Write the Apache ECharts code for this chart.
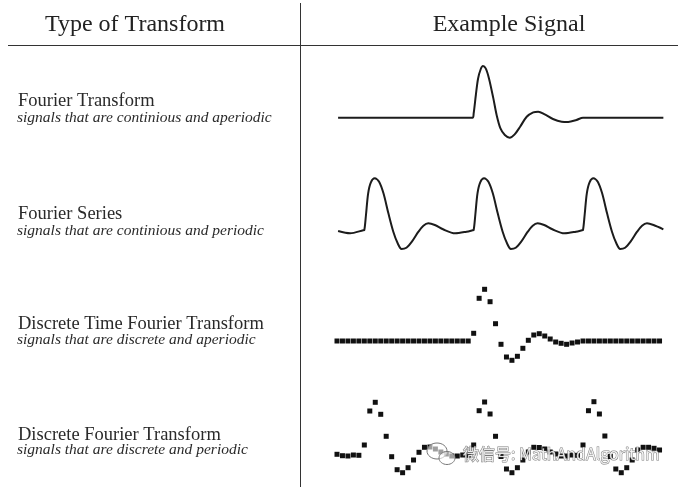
<!DOCTYPE html>
<html>
<head>
<meta charset="utf-8">
<script src="https://cdn.jsdelivr.net/npm/echarts@6/dist/echarts.min.js"></script>
<style>
  html, body { margin: 0; padding: 0; background: #fff; }
  #main { width: 695px; height: 487px; }
</style>
</head>
<body>
<div id="main"></div>
<script>
// column headers and row labels
var headers = ['Type of Transform', 'Example Signal'];
var rowTitles = ['Fourier Transform', 'Fourier Series', 'Discrete Time Fourier Transform', 'Discrete Fourier Transform'];
var rowSubtitles = [
  'signals that are continious and aperiodic',
  'signals that are continious and periodic',
  'signals that are discrete and aperiodic',
  'signals that are discrete and periodic'
];
var watermark = '微信号: MathAndAlgorithm';

// Fourier Transform - continuous, aperiodic (t in sample units, 0..60)
var ftT = [0.2, 24.8, 25.0, 25.4, 25.8, 26.3, 26.7, 27.2, 27.8, 28.6, 29.2, 29.9, 30.7, 31.6, 32.5, 33.5, 34.7, 35.9, 36.8, 38.0, 39.5, 41.1, 42.3, 43.8, 45.0, 59.7];
var ftV = [0, 0, 4.3, 22.7, 39, 48.7, 51.7, 49.3, 39.3, 19.3, 2.7, -10.7, -17.3, -20, -16.7, -9, 1, 5.3, 6, 3.3, -1.3, -4, -4.3, -2.3, 0, 0];

// Fourier Series - continuous, periodic
var fsT = [0.2, 2.4, 4.8, 5.0, 5.3, 5.7, 6.2, 6.9, 7.7, 8.5, 9.4, 10.3, 11.1, 11.8, 12.7, 13.7, 14.9, 15.8, 16.7, 17.9, 19.4, 21.6, 23.7, 24.8,
  25.0, 25.3, 25.7, 26.2, 26.9, 27.7, 28.5, 29.4, 30.3, 31.1, 31.8, 32.7, 33.7, 34.9, 35.8, 36.7, 37.9, 39.4, 41.6, 43.7, 44.8,
  45.0, 45.3, 45.7, 46.2, 46.9, 47.7, 48.5, 49.4, 50.3, 51.1, 51.8, 52.7, 53.7, 54.9, 55.8, 56.7, 57.9, 59.7];
var fsV = [0, -2.3, 0.7, 1, 16, 37.7, 48.7, 52.7, 49.3, 37.7, 17.7, -0.7, -12.3, -18, -16.7, -10.7, -0.7, 5.3, 7.7, 6, 1.7, -2.3, -0.7, 0.7,
  1, 16, 37.7, 48.7, 52.7, 49.3, 37.7, 17.7, -0.7, -12.3, -18, -16.7, -10.7, -0.7, 5.3, 7.7, 6, 1.7, -2.3, -0.7, 0.7,
  1, 16, 37.7, 48.7, 52.7, 49.3, 37.7, 17.7, -0.7, -12.3, -18, -16.7, -10.7, -0.7, 5.3, 7.7, 6, 1.7];

// DTFT - discrete, aperiodic, samples n = 0..59
var dtftV = [0, 0, 0, 0, 0, 0, 0, 0, 0, 0, 0, 0, 0, 0, 0, 0, 0, 0, 0, 0, 0, 0, 0, 0, 0,
  7.7, 42.7, 51.7, 39.3, 17.3, -3.3, -16, -19.3, -15.3, -7.3, 0.7, 6, 7.3, 5, 2, -1, -2.3, -3.3, -2, -1,
  0, 0, 0, 0, 0, 0, 0, 0, 0, 0, 0, 0, 0, 0, 0];

// DFT - discrete, periodic, samples n = 0..59
var dftV = [0.7, -0.7, -1, 0, -0.3, 10, 44, 52.7, 40.7, 18.7, -1.7, -14.7, -17.7, -12.7, -5, 2.7, 7.7, 8, 6, 3,
  1, -1, -1, 0, -0.3, 10, 44.3, 53, 41, 18.7, -1.5, -14, -17.7, -12.7, -5, 3, 7.7, 7.5, 6, 3,
  1, -1, -1, 0, -0.3, 10, 44.3, 53.3, 41, 19, -1.5, -14, -17.7, -12.7, -5, 5, 7.7, 7.7, 6.7, 5];

// layout
var rowTops = [62.7, 176, 286, 400];
var titleY = [101.5, 214, 324, 435];
var subY = [117.5, 231, 340, 450];
var serif = '"Liberation Serif", "Times New Roman", serif';

var chart = echarts.init(document.getElementById('main'));

function pairs(xs, ys) {
  return ys.map(function (v, k) { return [xs[k], v]; });
}
function samples(ys) {
  return ys.map(function (v, k) { return [k, v]; });
}

var grids = [], xAxes = [], yAxes = [];
rowTops.forEach(function (top, i) {
  grids.push({ left: 337, top: top, width: 328, height: 80 });
  xAxes.push({ type: 'value', gridIndex: i, min: 0, max: 60, show: false });
  yAxes.push({ type: 'value', gridIndex: i, min: -25, max: 55, show: false });
});

var lineStyle = { color: '#1c1c1c', width: 2 };
var dotStyle = { color: '#111', opacity: 1 };

var graphics = [
  // table rules
  { type: 'line', shape: { x1: 8, y1: 45.5, x2: 678, y2: 45.5 }, style: { stroke: '#333', lineWidth: 1 } },
  { type: 'line', shape: { x1: 300.5, y1: 3, x2: 300.5, y2: 487 }, style: { stroke: '#333', lineWidth: 1 } },
  { type: 'text', x: 135, y: 24.5, style: { text: headers[0], font: '24px ' + serif, fill: '#222', align: 'center', verticalAlign: 'middle' } },
  { type: 'text', x: 509, y: 24.5, style: { text: headers[1], font: '24px ' + serif, fill: '#222', align: 'center', verticalAlign: 'middle' } }
];
rowTitles.forEach(function (t, i) {
  graphics.push({ type: 'text', x: 18, y: titleY[i], style: { text: t, font: '18.5px ' + serif, fill: '#2a2a2a', verticalAlign: 'middle' } });
  graphics.push({ type: 'text', x: 17, y: subY[i], style: { text: rowSubtitles[i], font: 'italic 15.5px ' + serif, fill: '#2a2a2a', verticalAlign: 'middle' } });
});
// watermark (on top of the DFT dots)
graphics.push({ type: 'ellipse', z: 100, shape: { cx: 437, cy: 451, rx: 10, ry: 8 }, style: { fill: 'rgba(255,255,255,0.6)', stroke: '#777', lineWidth: 1 } });
graphics.push({ type: 'ellipse', z: 101, shape: { cx: 447, cy: 458, rx: 8, ry: 6.5 }, style: { fill: 'rgba(255,255,255,0.6)', stroke: '#777', lineWidth: 1 } });
graphics.push({ type: 'text', z: 102, x: 463, y: 454, style: { text: watermark, font: '16px "Noto Sans CJK SC", "Noto Sans", sans-serif', fill: 'rgba(255,255,255,0.85)', stroke: 'rgba(80,80,80,0.75)', lineWidth: 1, verticalAlign: 'middle' } });

chart.setOption({
  animation: false,
  backgroundColor: '#fff',
  grid: grids,
  xAxis: xAxes,
  yAxis: yAxes,
  graphic: graphics,
  series: [
    { type: 'line', xAxisIndex: 0, yAxisIndex: 0, data: pairs(ftT, ftV), showSymbol: false, smooth: 0.3, lineStyle: lineStyle },
    { type: 'line', xAxisIndex: 1, yAxisIndex: 1, data: pairs(fsT, fsV), showSymbol: false, smooth: 0.3, lineStyle: lineStyle },
    { type: 'scatter', xAxisIndex: 2, yAxisIndex: 2, data: samples(dtftV), symbol: 'rect', symbolSize: 5, itemStyle: dotStyle },
    { type: 'scatter', xAxisIndex: 3, yAxisIndex: 3, data: samples(dftV), symbol: 'rect', symbolSize: 5, itemStyle: dotStyle }
  ]
});
</script>
</body>
</html>
